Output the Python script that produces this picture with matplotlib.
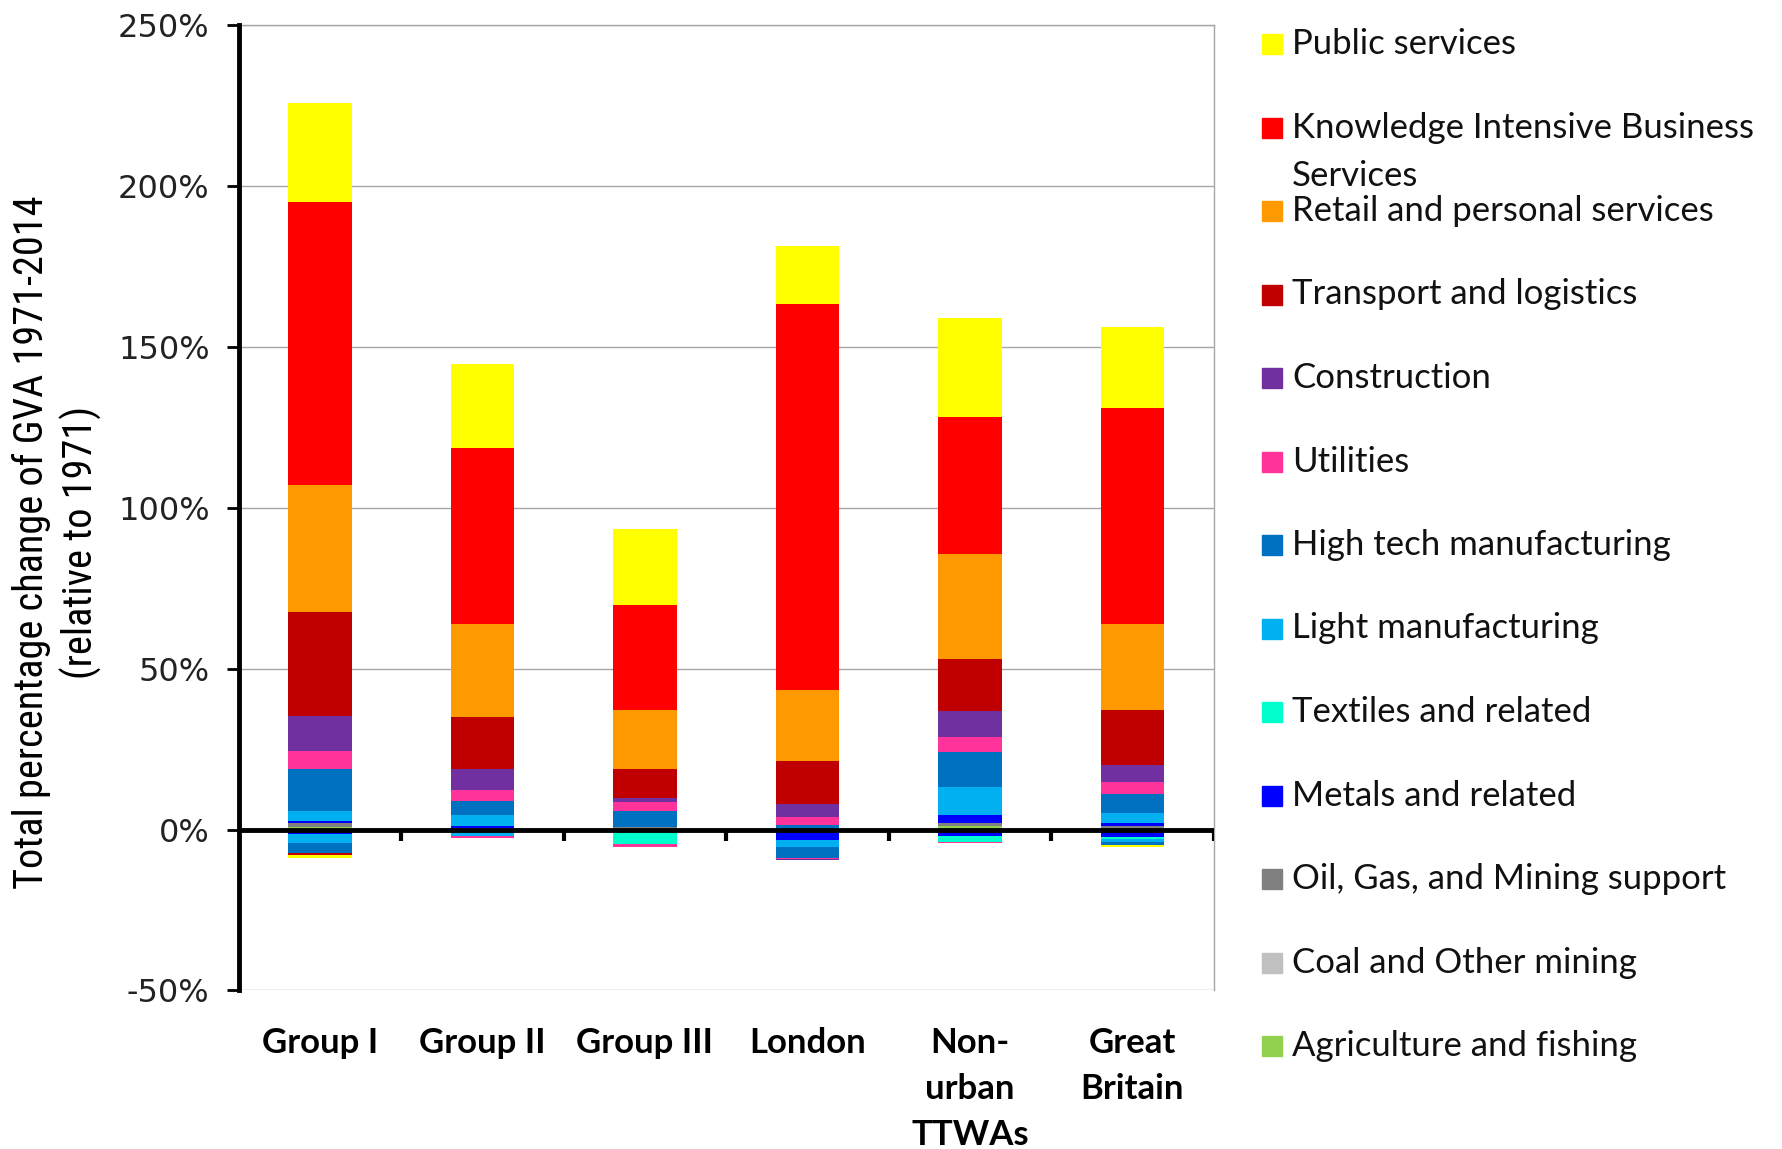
import numpy as np
import matplotlib
matplotlib.use("Agg")
import matplotlib.pyplot as plt
from matplotlib.patches import Rectangle
from matplotlib import font_manager

# categories on the x axis
categories = ["Group I", "Group II", "Group III", "London", "Non-\nurban\nTTWAs", "Great\nBritain"]

# sector series, bottom of stack first (Excel order)
sectors = ["Agriculture and fishing", "Coal and Other mining", "Oil, Gas, and Mining support",
           "Metals and related", "Textiles and related", "Light manufacturing",
           "High tech manufacturing", "Utilities", "Construction", "Transport and logistics",
           "Retail and personal services", "Knowledge Intensive Business Services", "Public services"]
colors = ["#92D050", "#C0C0C0", "#808080", "#0000FF", "#00FFCC", "#00B0F0",
          "#0070C0", "#FF3399", "#7030A0", "#C00000", "#FF9900", "#FF0000", "#FFFF00"]

# positive contributions (% change, relative to 1971)
agri_pos = [0.9, 0.3, 0.4, 0.0, 1.2, 0.5]
coal_pos = [0.0, 0.0, 0.0, 0.0, 0.0, 0.0]
oil_pos = [1.0, 0.3, 0.4, 0.0, 0.9, 0.6]
metals_pos = [0.7, 0.65, 0.0, 0.0, 2.3, 0.9]
textiles_pos = [0.0, 0.0, 0.0, 0.0, 0.0, 0.0]
light_pos = [3.1, 3.15, 0.0, 0.0, 8.9, 3.3]
hightech_pos = [13.1, 4.5, 4.9, 1.5, 10.9, 5.8]
utilities_pos = [5.6, 3.5, 2.9, 2.5, 4.7, 3.8]
construction_pos = [10.8, 6.4, 1.1, 4.1, 8.1, 5.3]
transport_pos = [32.4, 16.2, 9.1, 13.1, 16.1, 17.0]
retail_pos = [39.6, 29.0, 18.4, 22.3, 32.5, 26.8]
kibs_pos = [88.0, 54.5, 32.5, 120.0, 42.5, 66.9]
public_pos = [30.5, 26.2, 23.7, 18.0, 30.8, 25.2]

# negative contributions
agri_neg = [0.0, 0.0, 0.0, 0.0, 0.0, 0.0]
coal_neg = [0.0, 0.0, 0.0, 0.0, 0.0, 0.0]
oil_neg = [0.0, 0.0, 0.0, 0.0, 0.0, 0.0]
metals_neg = [-1.5, 0.0, 0.0, -3.2, -2.1, -2.3]
textiles_neg = [0.0, 0.0, -4.6, 0.0, -1.8, -0.5]
light_neg = [-2.7, -2.1, 0.0, -2.3, 0.0, -1.0]
hightech_neg = [-3.1, 0.0, 0.0, -3.3, 0.0, -1.0]
utilities_neg = [0.0, -0.6, -0.7, -0.3, -0.3, 0.0]
construction_neg = [0.0, 0.0, 0.0, -0.5, 0.0, 0.0]
transport_neg = [-0.6, 0.0, 0.0, 0.0, 0.0, 0.0]
retail_neg = [0.0, 0.0, 0.0, 0.0, 0.0, 0.0]
kibs_neg = [0.0, 0.0, 0.0, 0.0, 0.0, 0.0]
public_neg = [-0.8, 0.0, 0.0, 0.0, 0.0, -0.5]

pos = [agri_pos, coal_pos, oil_pos, metals_pos, textiles_pos, light_pos, hightech_pos,
       utilities_pos, construction_pos, transport_pos, retail_pos, kibs_pos, public_pos]
neg = [agri_neg, coal_neg, oil_neg, metals_neg, textiles_neg, light_neg, hightech_neg,
       utilities_neg, construction_neg, transport_neg, retail_neg, kibs_neg, public_neg]

# narrow font for the y label if one is around
names = set(f.name for f in font_manager.fontManager.ttflist)
narrow = None
for cand in ["Liberation Sans Narrow", "DejaVu Sans Condensed", "Roboto Condensed",
             "Open Sans Condensed"]:
    if cand in names:
        narrow = cand
        break

fig = plt.figure(figsize=(17.82, 11.49), dpi=100)
ax = fig.add_axes([0.134, 0.138, 0.547, 0.840])

x = np.arange(len(categories))
w = 0.39
bot_p = np.zeros(len(x))
bot_n = np.zeros(len(x))
for i in range(len(sectors)):
    p = np.array(pos[i])
    n = np.array(neg[i])
    ax.bar(x, p, w, bottom=bot_p, color=colors[i], linewidth=0, zorder=2)
    ax.bar(x, n, w, bottom=bot_n, color=colors[i], linewidth=0, zorder=2)
    bot_p += p
    bot_n += n

ax.set_xlim(-0.5, len(x) - 0.5)
ax.set_ylim(-50, 250)
ax.set_yticks(np.arange(-50, 251, 50))
ax.set_yticklabels([f"{v}%" for v in range(-50, 251, 50)])
ax.yaxis.grid(True, color="#A6A6A6", linewidth=1.0, zorder=0)
ax.set_axisbelow(True)

for s in ["top", "right"]:
    ax.spines[s].set_color("#A6A6A6")
    ax.spines[s].set_linewidth(1.0)
ax.spines["bottom"].set_visible(False)
ax.spines["left"].set_linewidth(3.5)
ax.spines["left"].set_color("black")
ax.spines["left"].set_zorder(5)

# category axis at zero with tick marks between groups
ax.axhline(0, color="black", linewidth=3.5, zorder=4)
ax.vlines(np.arange(0.5, len(x), 1.0), -3.6, 0, color="black", linewidth=3, zorder=4)

ax.tick_params(axis="y", direction="out", length=9, width=2, labelsize=23, pad=12,
               colors="black", labelcolor="#222222")
ax.set_xticks(x)
ax.set_xticklabels(categories, fontfamily="Lato", fontweight="bold", fontsize=25,
                   linespacing=1.55, va="top")
ax.tick_params(axis="x", length=0, pad=26)

ylab = "Total percentage change of GVA 1971-2014\n(relative to 1971)"
if narrow:
    fig.text(0.032, 0.528, ylab, rotation=90, ha="center", va="center", fontsize=29,
             linespacing=1.25, family=narrow)
else:
    fig.text(0.032, 0.528, ylab, rotation=90, ha="center", va="center", fontsize=28,
             linespacing=1.25, family="DejaVu Sans", stretch="condensed")

# legend, top entry first
leg_labels = sectors[::-1]
leg_colors = colors[::-1]
y0 = 1 - 44 / 1149
step = 83.5 / 1149
for k, (lab, col) in enumerate(zip(leg_labels, leg_colors)):
    yy = y0 - k * step
    fig.patches.append(Rectangle((1262 / 1782, yy - 10 / 1149), 20 / 1782, 20 / 1149,
                                 transform=fig.transFigure, color=col))
    if lab.startswith("Knowledge"):
        fig.text(1292 / 1782, yy, "Knowledge Intensive Business", va="center",
                 fontsize=25, family="Lato", color="#111111")
        fig.text(1292 / 1782, yy - 49 / 1149, "Services", va="center",
                 fontsize=25, family="Lato", color="#111111")
    else:
        fig.text(1292 / 1782, yy, lab, va="center", fontsize=25, family="Lato",
                 color="#111111")

fig.savefig("out.png", dpi=100)
